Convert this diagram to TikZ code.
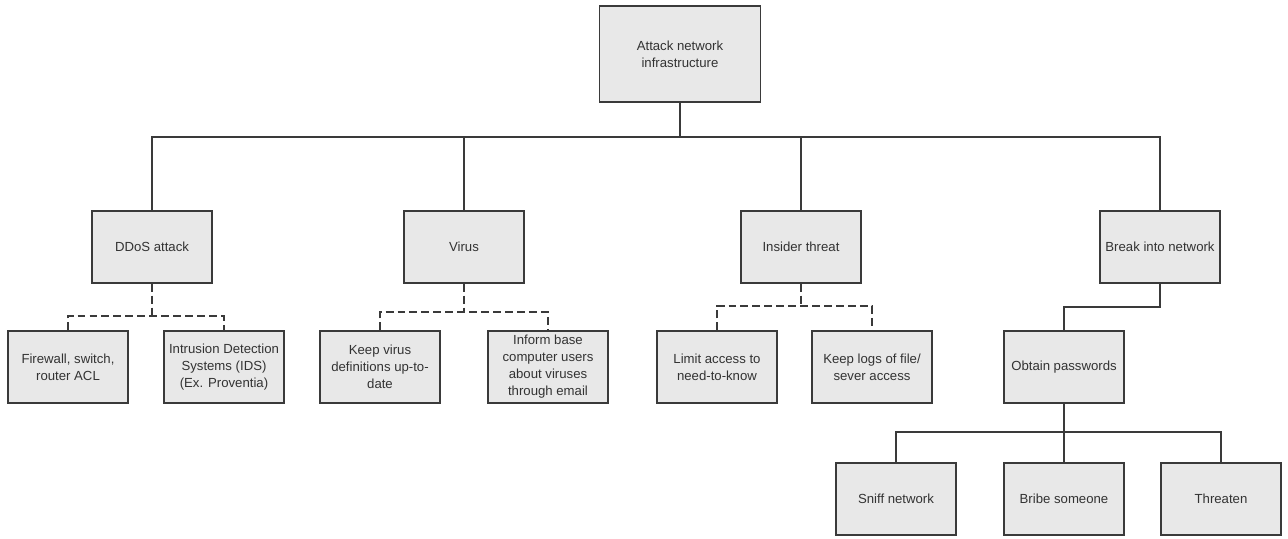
\documentclass[tikz,border=0pt]{standalone}
\usepackage{fontspec}
\setmainfont{Liberation Sans}
\usepackage{tikz}
\usetikzlibrary{positioning, calc}

\definecolor{boxfill}{HTML}{E8E8E8}
\definecolor{boxline}{HTML}{3A3A3A}
\definecolor{boxtext}{HTML}{333333}

\begin{document}
\begin{tikzpicture}[
  x=0.02cm, y=-0.02cm,
  line width=0.8pt, draw=boxline,
  box/.style   = {draw=boxline, fill=boxfill, text=boxtext, rectangle,
                  minimum width=2.4cm, minimum height=1.44cm, inner sep=1pt,
                  align=center, font=\fontsize{7.5}{9.7}\selectfont},
  topbox/.style = {box, minimum width=3.22cm, minimum height=1.92cm},
  dashline/.style = {dash pattern=on 4.5pt off 2.3pt},
]
  \useasboundingbox (0,0) rectangle (1288,538);

  \node[topbox] (root)   at (680,54)   {Attack network\\infrastructure};

  \node[box]    (ddos)   at (152,247)  {DDoS attack};
  \node[box]    (virus)  at (464,247)  {Virus};
  \node[box]    (insdr)  at (801,247)  {Insider threat};
  \node[box]    (brk)    at (1160,247) {Break into network};

  \node[box]    (fw)     at (68,367)   {Firewall, switch,\\router ACL};
  \node[box]    (ids)    at (224,367)  {Intrusion Detection\\Systems (IDS)\\(Ex. Proventia)};
  \node[box]    (vdef)   at (380,367)  {Keep virus\\definitions up-to-\\date};
  \node[box]    (vmail)  at (548,367)  {Inform base\\computer users\\about viruses\\through email};
  \node[box]    (limit)  at (717,367)  {Limit access to\\need-to-know};
  \node[box]    (logs)   at (872,367)  {Keep logs of file/\\sever access};
  \node[box]    (pwd)    at (1064,367) {Obtain passwords};

  \node[box]    (sniff)  at (896,499)  {Sniff network};
  \node[box]    (bribe)  at (1064,499) {Bribe someone};
  \node[box]    (threat) at (1221,499) {Threaten};

  % solid tree lines
  \coordinate (bus)  at (680,137);
  \draw (root.south) -- (bus);
  \draw (ddos.north) |- (bus) -| (brk.north);
  \draw (virus.north) -- (virus.north |- bus);
  \draw (insdr.north) -- (insdr.north |- bus);

  \coordinate (brkj) at (1160,307);
  \draw (brk.south) -- (brkj) -| (pwd.north);

  \coordinate (pwdj) at (1064,432);
  \draw (pwd.south) -- (bribe.north);
  \draw (sniff.north) |- (pwdj) -| (threat.north);

  % dashed countermeasures
  \coordinate (ddosj)  at (152,316);
  \coordinate (virusj) at (464,312);
  \coordinate (insdrj) at (801,306);
  \draw[dashline] (ddos.south)  -- (ddosj);
  \draw[dashline] (fw.north)    |- (ddosj)  -| (ids.north);
  \draw[dashline] (virus.south) -- (virusj);
  \draw[dashline] (vdef.north)  |- (virusj) -| (vmail.north);
  \draw[dashline] (insdr.south) -- (insdrj);
  \draw[dashline] (limit.north) |- (insdrj) -| (logs.north);
\end{tikzpicture}
\end{document}
